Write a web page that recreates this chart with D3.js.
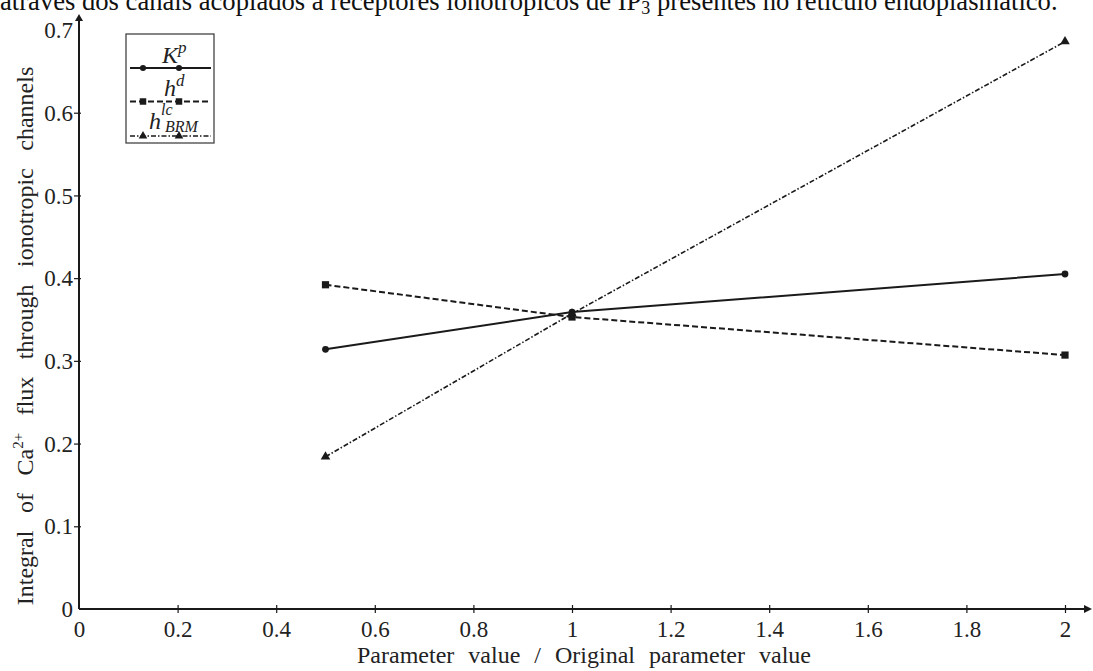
<!DOCTYPE html>
<html><head><meta charset="utf-8">
<script src="https://cdn.jsdelivr.net/npm/d3@7"></script>
<style>
html,body{margin:0;padding:0;background:#fff;}
svg{display:block;}
svg text{font-family:"Liberation Serif","Times New Roman",serif !important;}
</style></head>
<body>
<svg id="chart" width="1093" height="671"></svg>
<script>
// ---- data ----
const xValues = [0.5, 1, 2];
const kpValues = [0.314, 0.359, 0.405];
const hdValues = [0.392, 0.353, 0.307];
const hlcValues = [0.184, 0.357, 0.686];
const xTicks = [0, 0.2, 0.4, 0.6, 0.8, 1, 1.2, 1.4, 1.6, 1.8, 2];
const yTicks = [0, 0.1, 0.2, 0.3, 0.4, 0.5, 0.6, 0.7];
const seriesNames = ["Kp", "hd", "hlc"];

const svg = d3.select("#chart");
const x = d3.scaleLinear().domain([0, 2]).range([79, 1065]);
const y = d3.scaleLinear().domain([0, 0.7]).range([609, 30]);
const ink = "#1a1a1a";

function measure(str, fs) {
  const probe = svg.append("text").attr("font-size", fs).text(str);
  const w = probe.node().getComputedTextLength();
  probe.remove();
  return w;
}

// caption fragment at top (clipped by the page edge, as in the reference)
const cap = svg.append("text").attr("x", 0).attr("y", 9.5).attr("fill", "#111");
cap.append("tspan").text("através dos canais acoplados a receptores ionotrópicos de IP");
const capSub = cap.append("tspan").attr("dy", 4).text("3");
cap.append("tspan").attr("dy", -4).text(" presentes no retículo endoplasmático.");
const capFs = 22 * 750 / measure("através dos canais acoplados a receptores ionotrópicos de IP3 presente", 22);
cap.attr("font-size", capFs);
capSub.attr("font-size", capFs * 0.68);

// axes lines
svg.append("line").attr("x1", x(0)).attr("x2", 1088).attr("y1", y(0)).attr("y2", y(0))
  .attr("stroke", ink).attr("stroke-width", 2);
svg.append("path").attr("d", `M1092,${y(0)} L1084,${y(0)-4} L1084,${y(0)+4} Z`).attr("fill", ink);
svg.append("line").attr("x1", x(0)).attr("x2", x(0)).attr("y1", y(0)).attr("y2", 19)
  .attr("stroke", ink).attr("stroke-width", 2);
svg.append("path").attr("d", `M${x(0)},14 L${x(0)-4},21 L${x(0)+4},21 Z`).attr("fill", ink);

// x axis ticks + labels
const gx = svg.append("g").attr("transform", `translate(0,${y(0)})`)
  .call(d3.axisBottom(x).tickValues(xTicks).tickSize(0).tickFormat(d3.format("~g")));
gx.attr("font-family", null);
gx.select(".domain").remove();
gx.selectAll(".tick line").remove();
gx.selectAll(".tick").append("line").attr("y1", -4).attr("y2", 4).attr("stroke", ink).attr("stroke-width", 1.2)
  .filter(d => d === 0).remove();
gx.selectAll(".tick text").attr("y", 28).attr("dy", 0).attr("font-size", 23).attr("fill", "#222");

// y axis ticks + labels
const gy = svg.append("g").attr("transform", `translate(${x(0)},0)`)
  .call(d3.axisLeft(y).tickValues(yTicks).tickSize(0).tickFormat(d3.format("~g")));
gy.attr("font-family", null);
gy.select(".domain").remove();
gy.selectAll(".tick line").remove();
gy.selectAll(".tick").append("line").attr("x1", -5).attr("x2", 2).attr("stroke", ink).attr("stroke-width", 1.2)
  .filter(d => d === 0 || d === 0.7).remove();
gy.selectAll(".tick text").attr("x", -6).attr("dy", "0.33em").attr("font-size", 23).attr("fill", "#222");

// axis titles (somewhat wide word spacing as in the reference)
const titleFs = 24;
const xTitle = "Parameter value / Original parameter value";
const xWs = Math.max(0, (462 - measure(xTitle, titleFs)) / 6);
svg.append("text").attr("x", 584).attr("y", 663).attr("text-anchor", "middle")
  .attr("font-size", titleFs).attr("fill", "#222").attr("word-spacing", xWs)
  .text(xTitle);
const yWs = Math.max(0, (548 - measure("Integral of Ca2+ flux through ionotropic channels", titleFs)) / 6);
const yt = svg.append("text").attr("transform", "translate(33,336) rotate(-90)").attr("text-anchor", "middle")
  .attr("font-size", titleFs).attr("fill", "#222").attr("word-spacing", yWs);
yt.append("tspan").text("Integral of Ca");
yt.append("tspan").attr("font-size", 15).attr("dy", -10).text("2+");
yt.append("tspan").attr("dy", 10).text(" flux through ionotropic channels");

// series
const series = [
  {name: seriesNames[0], vals: kpValues, dash: null, width: 2, marker: "circle"},
  {name: seriesNames[1], vals: hdValues, dash: "6,3", width: 2, marker: "square"},
  {name: seriesNames[2], vals: hlcValues, dash: "5,2,1.5,2", width: 1.6, marker: "triangle"}
];
const line = d3.line().x((d, i) => x(xValues[i])).y(d => y(d));
function drawMarker(g, type, cx, cy, s) {
  if (type === "circle") g.append("circle").attr("cx", cx).attr("cy", cy).attr("r", 3.4 * s).attr("fill", ink);
  else if (type === "square") g.append("rect").attr("x", cx - 3.6 * s).attr("y", cy - 3.6 * s)
    .attr("width", 7.2 * s).attr("height", 7.2 * s).attr("fill", ink);
  else g.append("path").attr("d", d3.symbol(d3.symbolTriangle, 40 * s * s)()).attr("transform", `translate(${cx},${cy})`).attr("fill", ink);
}
series.forEach(sr => {
  svg.append("path").datum(sr.vals).attr("d", line).attr("fill", "none").attr("stroke", ink)
    .attr("stroke-width", sr.width).attr("stroke-dasharray", sr.dash);
  const g = svg.append("g");
  sr.vals.forEach((v, i) => drawMarker(g, sr.marker, x(xValues[i]), y(v), 1));
});

// legend
const lg = svg.append("g");
lg.append("rect").attr("x", 126).attr("y", 34).attr("width", 88).attr("height", 109)
  .attr("fill", "#fff").attr("stroke", "#444").attr("stroke-width", 1.3);
const legY = [68, 101.5, 136];
series.forEach((sr, i) => {
  lg.append("line").attr("x1", 130).attr("x2", 211).attr("y1", legY[i]).attr("y2", legY[i])
    .attr("stroke", ink).attr("stroke-width", sr.width).attr("stroke-dasharray", sr.dash);
  drawMarker(lg, sr.marker, 143, legY[i], 0.9);
  drawMarker(lg, sr.marker, 179, legY[i], 0.9);
});
const t1 = lg.append("text").attr("x", 162).attr("y", 63).attr("font-size", 24).attr("font-style", "italic").attr("fill", "#222");
t1.append("tspan").text("K");
t1.append("tspan").attr("font-size", 17).attr("dy", -10).text("p");
const t2 = lg.append("text").attr("x", 164).attr("y", 96).attr("font-size", 24).attr("font-style", "italic").attr("fill", "#222");
t2.append("tspan").text("h");
t2.append("tspan").attr("font-size", 17).attr("dy", -10).text("d");
const t3 = lg.append("text").attr("x", 149).attr("y", 129).attr("font-size", 24).attr("font-style", "italic").attr("fill", "#222");
t3.append("tspan").text("h");
t3.append("tspan").attr("font-size", 16).attr("dy", -14).text("lc");
t3.append("tspan").attr("x", 165).attr("font-size", 16).attr("dy", 17).text("BRM");
</script>
</body></html>
